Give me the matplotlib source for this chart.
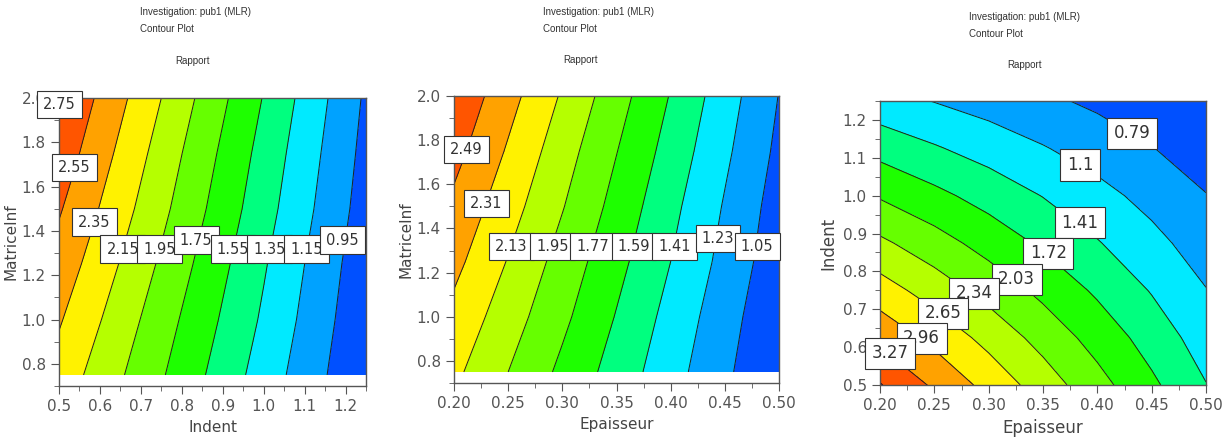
# contour plots "Rapport" (MLR model) - three factor pairs
import numpy as np
import matplotlib
matplotlib.use("Agg")
import matplotlib.pyplot as plt
from matplotlib.ticker import MultipleLocator, FormatStrFormatter

# band colours from the lowest to the highest response
BAND_COLORS = ["#0050ff", "#00a2ff", "#00eaff", "#00ff7f", "#1eff00", "#66ff00",
               "#b5ff00", "#fff200", "#ffa200", "#ff5500", "#cc0000"]

# --- panel 1 : Indent x MatriceInf
indent_1 = [0.5, 0.75, 1.0, 1.25]
matrice_1 = [0.75, 1.0, 1.25, 1.5, 1.75, 2.0]
rapport_1 = [[2.27, 1.77, 1.26, 0.76],
             [2.37, 1.84, 1.32, 0.79],
             [2.47, 1.92, 1.37, 0.82],
             [2.57, 2.00, 1.43, 0.86],
             [2.67, 2.07, 1.48, 0.89],
             [2.76, 2.15, 1.54, 0.92]]
levels_1 = [0.95, 1.15, 1.35, 1.55, 1.75, 1.95, 2.15, 2.35, 2.55, 2.75]

# --- panel 2 : Epaisseur x MatriceInf
epaisseur_2 = [0.2, 0.3, 0.4, 0.5]
matrice_2 = [0.75, 1.0, 1.25, 1.5, 1.75, 2.0]
rapport_2 = [[2.17, 1.73, 1.30, 0.87],
             [2.26, 1.81, 1.35, 0.90],
             [2.36, 1.88, 1.41, 0.94],
             [2.45, 1.96, 1.46, 0.97],
             [2.55, 2.03, 1.52, 1.01],
             [2.64, 2.11, 1.58, 1.045]]
levels_2 = [1.05, 1.23, 1.41, 1.59, 1.77, 1.95, 2.13, 2.31, 2.49]

# --- panel 3 : Epaisseur x Indent
epaisseur_3 = [0.2, 0.25, 0.3, 0.35, 0.4, 0.45, 0.5]
indent_3 = [0.5, 0.625, 0.75, 0.875, 1.0, 1.125, 1.25]
rapport_3 = [[3.60, 3.22, 2.86, 2.50, 2.14, 1.78, 1.42],
             [3.19, 2.87, 2.55, 2.23, 1.91, 1.59, 1.26],
             [2.79, 2.51, 2.23, 1.95, 1.67, 1.39, 1.11],
             [2.40, 2.16, 1.91, 1.67, 1.43, 1.19, 0.95],
             [2.00, 1.80, 1.60, 1.40, 1.20, 1.00, 0.80],
             [1.61, 1.44, 1.28, 1.12, 0.96, 0.80, 0.64],
             [1.21, 1.09, 0.97, 0.85, 0.73, 0.61, 0.49]]
levels_3 = [0.79, 1.1, 1.41, 1.72, 2.03, 2.34, 2.65, 2.96, 3.27, 3.58]
labels_3 = [0.79, 1.1, 1.41, 1.72, 2.03, 2.34, 2.65, 2.96, 3.27]

W, H = 1227, 444
fig = plt.figure(figsize=(W / 100, H / 100), dpi=100)


def px_axes(l, t, r, b):
    return fig.add_axes([l / W, 1 - b / H, (r - l) / W, (b - t) / H])


def draw_panel(ax, xs, ys, zs, levels, label_levels, label_pos, fsize, pad):
    z = np.array(zs)
    fill_levels = [0] + list(levels) + [10]
    ax.contourf(xs, ys, z, levels=fill_levels,
                colors=BAND_COLORS[:len(fill_levels) - 1])
    ax.contour(xs, ys, z, levels=levels, colors="#202020", linewidths=0.7)
    for val, (px, py) in zip(label_levels, label_pos):
        ax.text(px, py, f"{val:g}", ha="center", va="center", fontsize=fsize,
                color="#333333", zorder=10,
                bbox=dict(facecolor="white", edgecolor="#333333", lw=0.8,
                          boxstyle=f"square,pad={pad}"))
    for s in ax.spines.values():
        s.set_color("#555555")
        s.set_linewidth(1.0)
    ax.tick_params(which="both", direction="out", colors="#555555",
                   labelcolor="#555555", labelsize=11)
    ax.tick_params(which="major", length=6)
    ax.tick_params(which="minor", length=3.5)


def header(x_left, y_top, x_center, y_title):
    f = ["Liberation Sans Narrow", "Liberation Sans"]
    fig.text(x_left / W, 1 - y_top / H, "Investigation: pub1 (MLR)",
             fontsize=7, family=f, va="center", color="#333333")
    fig.text(x_left / W, 1 - (y_top + 17) / H, "Contour Plot",
             fontsize=7, family=f, va="center", color="#333333")
    fig.text(x_center / W, 1 - y_title / H, "Rapport",
             fontsize=7, family=f, va="center", ha="center", color="#333333")


# panel 1
ax1 = px_axes(59, 98, 366, 386)
pos1 = [(0.5017, 1.97), (0.538, 1.685), (0.587, 1.44), (0.656, 1.318),
        (0.746, 1.318), (0.835, 1.359), (0.925, 1.318), (1.014, 1.318),
        (1.104, 1.318), (1.193, 1.359)]
draw_panel(ax1, indent_1, matrice_1, rapport_1, levels_1,
           levels_1[::-1], pos1, 10.5, 0.42)
ax1.set_xlim(0.5, 1.25)
ax1.set_ylim(0.7, 2.0)
ax1.xaxis.set_major_locator(MultipleLocator(0.1))
ax1.xaxis.set_minor_locator(MultipleLocator(0.05))
ax1.yaxis.set_major_locator(MultipleLocator(0.2))
ax1.yaxis.set_minor_locator(MultipleLocator(0.1))
ax1.xaxis.set_major_formatter(FormatStrFormatter("%.1f"))
ax1.yaxis.set_major_formatter(FormatStrFormatter("%.1f"))
ax1.set_xlabel("Indent", fontsize=11, color="#444444")
ax1.set_ylabel("MatriceInf", fontsize=11, color="#444444", labelpad=2)
header(140, 12, 193, 61)

# panel 2
ax2 = px_axes(454, 96, 779, 383)
pos2 = [(0.2114, 1.756), (0.2299, 1.514), (0.2529, 1.318), (0.2908, 1.318),
        (0.3283, 1.318), (0.3662, 1.318), (0.4037, 1.318), (0.4438, 1.356),
        (0.4798, 1.318)]
draw_panel(ax2, epaisseur_2, matrice_2, rapport_2, levels_2,
           levels_2[::-1], pos2, 10.5, 0.42)
ax2.set_xlim(0.2, 0.5)
ax2.set_ylim(0.7, 2.0)
ax2.xaxis.set_major_locator(MultipleLocator(0.05))
ax2.xaxis.set_minor_locator(MultipleLocator(0.025))
ax2.yaxis.set_major_locator(MultipleLocator(0.2))
ax2.yaxis.set_minor_locator(MultipleLocator(0.1))
ax2.xaxis.set_major_formatter(FormatStrFormatter("%.2f"))
ax2.yaxis.set_major_formatter(FormatStrFormatter("%.1f"))
ax2.set_xlabel("Epaisseur", fontsize=11, color="#444444")
ax2.set_ylabel("MatriceInf", fontsize=11, color="#444444", labelpad=2)
header(543, 12, 580, 60)

# panel 3
ax3 = px_axes(880, 101, 1206, 385)
pos3 = [(0.4322, 1.165), (0.384, 1.081), (0.384, 0.929), (0.3549, 0.848),
        (0.3258, 0.779), (0.2868, 0.742), (0.2577, 0.689), (0.2383, 0.623),
        (0.2092, 0.584)]
draw_panel(ax3, epaisseur_3, indent_3, rapport_3, levels_3,
           labels_3, pos3, 12, 0.4)
ax3.set_xlim(0.2, 0.5)
ax3.set_ylim(0.5, 1.25)
ax3.xaxis.set_major_locator(MultipleLocator(0.05))
ax3.xaxis.set_minor_locator(MultipleLocator(0.025))
ax3.yaxis.set_major_locator(MultipleLocator(0.1))
ax3.yaxis.set_minor_locator(MultipleLocator(0.05))
ax3.xaxis.set_major_formatter(FormatStrFormatter("%.2f"))
ax3.yaxis.set_major_formatter(FormatStrFormatter("%.1f"))
ax3.set_xlabel("Epaisseur", fontsize=12, color="#444444")
ax3.set_ylabel("Indent", fontsize=12, color="#444444")
header(969, 17, 1024, 65)

fig.savefig("out.png", dpi=100)
